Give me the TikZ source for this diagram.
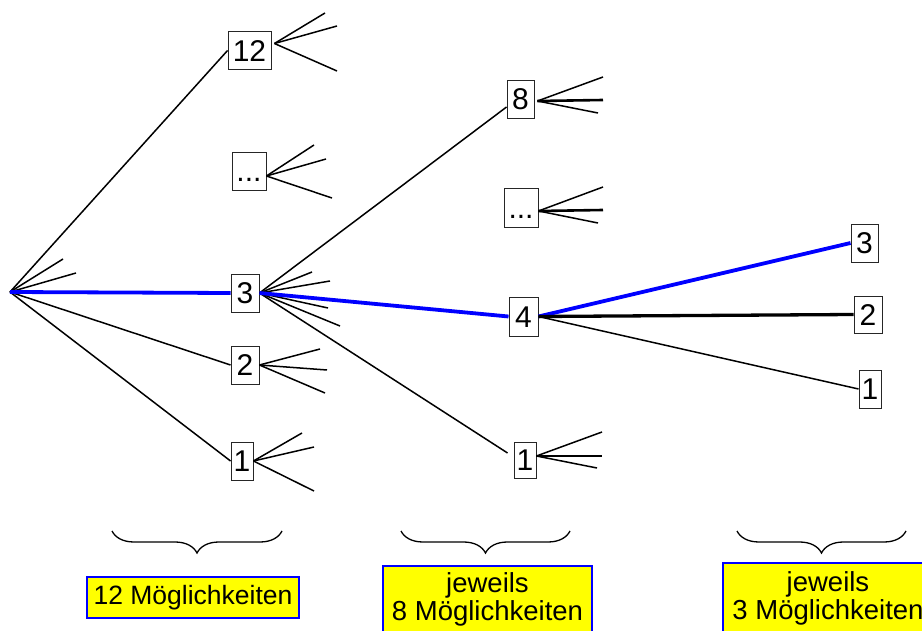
\documentclass[tikz,border=0pt]{standalone}
\usepackage{fontspec}
\setmainfont{Liberation Sans}
\usetikzlibrary{decorations.pathreplacing,calc}
\definecolor{selblue}{RGB}{0,0,255}
\definecolor{labyellow}{RGB}{255,255,0}
\begin{document}
\begin{tikzpicture}[x=1pt,y=-1pt,
  num/.style={draw=black!85, line width=0.9pt, inner sep=0pt, minimum height=38pt,
              text height=21.5pt, text depth=0pt, font=\fontsize{30}{30}\selectfont},
  edge/.style={line width=1.5pt, black},
  thickedge/.style={line width=2.6pt, black},
  sel/.style={line width=3.8pt, selblue},
  lab/.style={draw=selblue, fill=labyellow, line width=1.5pt, align=center, inner sep=0pt},
  brc/.style={decorate, decoration={brace, mirror, amplitude=22pt}, line width=1.3pt}
]
\useasboundingbox (0,0) rectangle (922,631);
\clip (0,0) rectangle (922,631);

% root
\coordinate (root) at (10,292);

% level 1
\node[num, minimum width=43pt] (a12) at (249.5,50.5) {12};
\node[num, minimum width=34pt] (adots) at (249,171) {...};
\node[num, minimum width=28pt] (a3) at (245,293) {3};
\node[num, minimum width=28pt] (a2) at (245,365) {2};
\node[num, minimum width=22pt] (a1) at (242,461) {1};

% level 2
\node[num, minimum width=27pt] (b8) at (520.5,99) {8};
\node[num, minimum width=34pt, minimum height=39pt] (bdots) at (521,207.5) {...};
\node[num, minimum width=29pt, minimum height=39pt] (b4) at (523.5,316.5) {4};
\node[num, minimum width=22pt, minimum height=36pt] (b1) at (525,460) {1};

% level 3
\node[num, minimum width=27pt] (c3) at (864.5,243) {3};
\node[num, minimum width=28pt, minimum height=37pt] (c2) at (868,314.5) {2};
\node[num, minimum width=22pt] (c1) at (870,389) {1};

% free ends of stubs
\coordinate (r1) at (63,259);
\coordinate (r2) at (76,273);
\coordinate (s12a) at (325,13);
\coordinate (s12b) at (337,26);
\coordinate (s12c) at (337,71);
\coordinate (sdta) at (314,145);
\coordinate (sdtb) at (326,159);
\coordinate (sdtc) at (332,198);
\coordinate (s3a) at (312,272);
\coordinate (s3b) at (330,281);
\coordinate (s3c) at (328,308);
\coordinate (s3d) at (340,326);
\coordinate (s2a) at (320,349);
\coordinate (s2b) at (327,370);
\coordinate (s2c) at (325,393);
\coordinate (s1a) at (302,433);
\coordinate (s1b) at (314,447);
\coordinate (s1c) at (314,491);
\coordinate (t8a) at (603,77);
\coordinate (t8b) at (603,100);
\coordinate (t8c) at (598,113);
\coordinate (tdta) at (603,187);
\coordinate (tdtb) at (603,210);
\coordinate (tdtc) at (598,223);
\coordinate (t1a) at (602,432);
\coordinate (t1b) at (602,456);
\coordinate (t1c) at (597,468);

% root connectors
\draw[edge] (root) -- (a12.west);
\draw[edge] (root) -- (r1);
\draw[edge] (root) -- (r2);
\draw[edge] (root) -- (a2.west);
\draw[edge] (root) -- (a1.west);
\draw[sel] (root) -- (a3.west);

% level-1 fans
\draw[edge] ([xshift=3pt,yshift=7pt]a12.east) -- (s12a);
\draw[edge] ([xshift=3pt,yshift=7pt]a12.east) -- (s12b);
\draw[edge] ([xshift=3pt,yshift=7pt]a12.east) -- (s12c);
\draw[edge] ([yshift=-5pt]adots.east) -- (sdta);
\draw[edge] ([yshift=-5pt]adots.east) -- (sdtb);
\draw[edge] ([yshift=-5pt]adots.east) -- (sdtc);
\draw[edge] (a3.east) -- ([yshift=-8pt]b8.west);
\draw[edge] (a3.east) -- (s3a);
\draw[edge] (a3.east) -- (s3b);
\draw[edge] (a3.east) -- (s3c);
\draw[edge] (a3.east) -- (s3d);
\draw[edge] (a3.east) -- ([xshift=-6pt,yshift=7pt]b1.west);
\draw[sel] (a3.east) -- (b4.west);
\draw[edge] (a2.east) -- (s2a);
\draw[edge] (a2.east) -- (s2b);
\draw[edge] (a2.east) -- (s2c);
\draw[edge] (a1.east) -- (s1a);
\draw[edge] (a1.east) -- (s1b);
\draw[edge] (a1.east) -- (s1c);

% level-2 fans
\draw[edge] ([xshift=3pt,yshift=-2pt]b8.east) -- (t8a);
\draw[thickedge] ([xshift=3pt,yshift=-2pt]b8.east) -- (t8b);
\draw[edge] ([xshift=3pt,yshift=-2pt]b8.east) -- (t8c);
\draw[edge] ([yshift=-3.5pt]bdots.east) -- (tdta);
\draw[thickedge] ([yshift=-3.5pt]bdots.east) -- (tdtb);
\draw[edge] ([yshift=-3.5pt]bdots.east) -- (tdtc);
\draw[edge] ([yshift=4pt]b1.east) -- (t1a);
\draw[thickedge] ([yshift=4pt]b1.east) -- (t1b);
\draw[edge] ([yshift=4pt]b1.east) -- (t1c);
\draw[sel] (b4.east) -- (c3.west);
\draw[line width=3.3pt] (b4.east) -- (c2.west);
\draw[edge] (b4.east) -- (c1.west);

% braces
\coordinate (br1l) at (112,531); \coordinate (br1r) at (282,531);
\coordinate (br2l) at (401,531); \coordinate (br2r) at (570,531);
\coordinate (br3l) at (737,531); \coordinate (br3r) at (906,531);
\draw[brc] (br1l) -- (br1r);
\draw[brc] (br2l) -- (br2r);
\draw[brc] (br3l) -- (br3r);

% labels
\node[lab, minimum width=212pt, minimum height=41pt, font=\fontsize{26.5}{28}\selectfont]
  (L1) at (193,597.5) {12 Möglichkeiten};
\node[lab, minimum width=209pt, minimum height=66pt, font=\fontsize{27.5}{28}\selectfont]
  (L2) at (487.5,599) {jeweils\\8 Möglichkeiten};
\node[lab, minimum width=210pt, minimum height=70pt, font=\fontsize{27.5}{28}\selectfont]
  (L3) at (828,598) {jeweils\\3 Möglichkeiten};
\end{tikzpicture}
\end{document}
